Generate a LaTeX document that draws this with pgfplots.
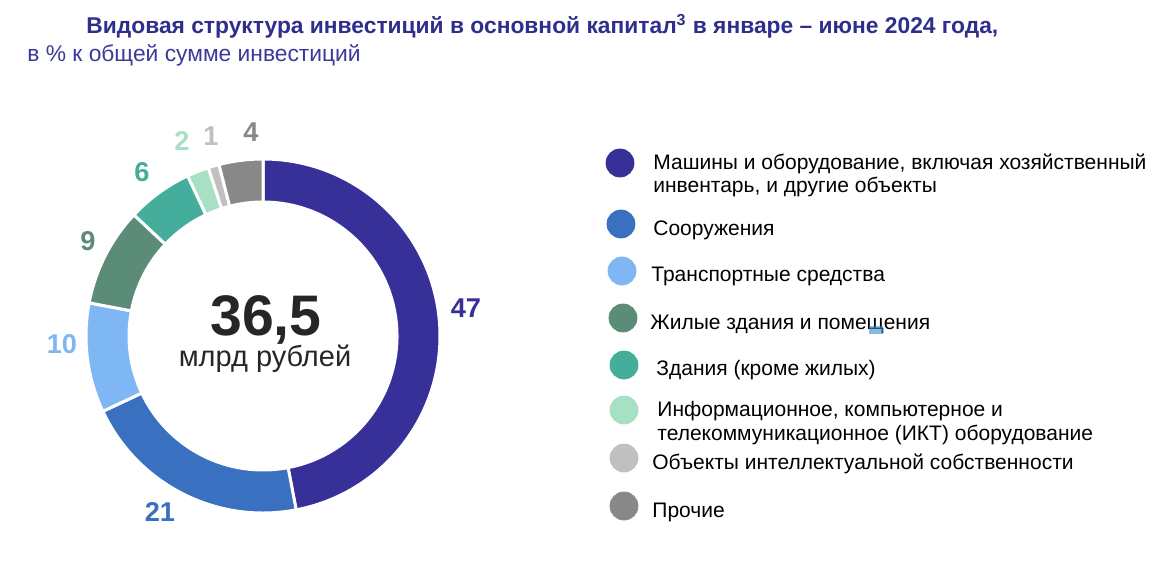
\documentclass[border=0pt]{standalone}
\usepackage{pgfplots}
\pgfplotsset{compat=1.18}
\usepackage{pgfplotstable}
\usepackage{fontspec}
\setmainfont{Liberation Sans}
\usetikzlibrary{calc}

\definecolor{c1}{RGB}{54,48,152}
\definecolor{c2}{RGB}{58,112,192}
\definecolor{c3}{RGB}{127,183,245}
\definecolor{c4}{RGB}{90,140,120}
\definecolor{c5}{RGB}{69,173,155}
\definecolor{c6}{RGB}{168,224,196}
\definecolor{c7}{RGB}{192,192,192}
\definecolor{c8}{RGB}{136,136,136}
\definecolor{titlecol}{RGB}{46,46,140}
\definecolor{subcol}{RGB}{58,58,155}
\definecolor{dark}{RGB}{38,38,38}

% share (%), colour, label position (px from top-left)
\pgfplotstableread{
val col lx ly
47 c1 466 308
21 c2 160 512
10 c3 62 344
9 c4 88 241
6 c5 142 172
2 c6 182 141
1 c7 211 136
4 c8 251 132
}\slices

\begin{document}
\begin{tikzpicture}
\begin{axis}[
    width=582pt, height=284.5pt,
    scale only axis,
    xmin=0, xmax=1164, ymin=0, ymax=569,
    hide axis,
    clip=false,
]
% legend markers
\addplot[only marks, mark=*, mark size=7pt, c1, forget plot] coordinates {(620,406)};
\addplot[only marks, mark=*, mark size=7pt, c2, forget plot] coordinates {(621,345)};
\addplot[only marks, mark=*, mark size=7pt, c3, forget plot] coordinates {(622,298)};
\addplot[only marks, mark=*, mark size=7pt, c4, forget plot] coordinates {(623,251)};
\addplot[only marks, mark=*, mark size=7pt, c5, forget plot] coordinates {(624,204)};
\addplot[only marks, mark=*, mark size=7pt, c6, forget plot] coordinates {(624,159)};
\addplot[only marks, mark=*, mark size=7pt, c7, forget plot] coordinates {(624,111)};
\addplot[only marks, mark=*, mark size=7pt, c8, forget plot] coordinates {(624,63)};

\pgfplotsextra{
  \xdef\astart{90}
  \foreach \i in {0,...,7} {
    \pgfplotstablegetelem{\i}{val}\of\slices \let\v\pgfplotsretval
    \pgfplotstablegetelem{\i}{col}\of\slices \let\c\pgfplotsretval
    \pgfplotstablegetelem{\i}{lx}\of\slices \let\lx\pgfplotsretval
    \pgfplotstablegetelem{\i}{ly}\of\slices \let\ly\pgfplotsretval
    \pgfmathsetmacro\aend{\astart-3.6*\v}
    \pgfmathsetmacro\lyy{569-\ly}
    \fill[\c, draw=white, line width=1.5pt]
      ($(axis cs:263,233)+(\astart:88.5pt)$) arc[start angle=\astart, end angle=\aend, radius=88.5pt]
      -- ($(axis cs:263,233)+(\aend:67pt)$) arc[start angle=\aend, end angle=\astart, radius=67pt] -- cycle;
    \node[text=\c, font=\bfseries\fontsize{13.6}{14}\selectfont] at (axis cs:\lx,\lyy) {\v};
    \xdef\astart{\aend}
  }
  % centre text
  \node[anchor=base, text=dark, font=\bfseries\fontsize{28.6}{30}\selectfont] at (axis cs:266,234) {36,5};
  \node[anchor=base, text=dark, font=\fontsize{14.5}{16}\selectfont] at (axis cs:265,202.3) {млрд рублей};
  % titles
  \node[anchor=base west, text=titlecol, font=\bfseries\fontsize{11.4}{13}\selectfont, inner sep=0pt]
    at (axis cs:86,535.5) {Видовая структура инвестиций в основной капитал\textsuperscript{3} в январе – июне 2024 года,};
  \node[anchor=base west, text=subcol, font=\fontsize{11.4}{13}\selectfont, inner sep=0pt]
    at (axis cs:27,507.5) {в \% к общей сумме инвестиций};
  % legend texts
  \tikzset{lg/.style={anchor=base west, inner sep=0pt, font=\fontsize{10.5}{12}\selectfont}}
  \node[lg] at (axis cs:653,400) {Машины и оборудование, включая хозяйственный};
  \node[lg] at (axis cs:653,376.3) {инвентарь, и другие объекты};
  \node[lg] at (axis cs:653,333) {Сооружения};
  \node[lg] at (axis cs:651,287.3) {Транспортные средства};
  \node[lg] at (axis cs:650,240) {Жилые здания и помещения};
  \node[lg] at (axis cs:656,193) {Здания (кроме жилых)};
  \node[lg] at (axis cs:657,152.3) {Информационное, компьютерное и};
  \node[lg] at (axis cs:657,129) {телекоммуникационное (ИКТ) оборудование};
  \node[lg] at (axis cs:652,99.7) {Объекты интеллектуальной собственности};
  \node[lg] at (axis cs:652,51.3) {Прочие};
  \fill[blue!40!cyan!60!gray, opacity=0.6] (axis cs:869,235) rectangle (axis cs:883,243);
  \path (rel axis cs:0,0) rectangle (rel axis cs:1,1);
}
\end{axis}
\end{tikzpicture}
\end{document}
